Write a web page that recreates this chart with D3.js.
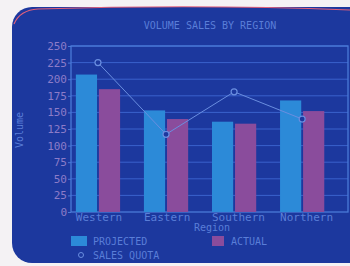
<!DOCTYPE html>
<html lang="en">
<head>
    <meta charset="UTF-8">
    <title>Volume Sales by Region</title>
    <style>
        body { margin: 0; background: #f4f2f4; }
        svg { display: block; }
        text { font-family: "DejaVu Sans Mono", monospace; }
        .grid line { stroke: #3a62cc; stroke-width: 1; }
        .tick-label { fill: #8c7cc8; font-size: 11px; }
    </style>
    <script src="https://d3js.org/d3.v7.min.js"></script>
</head>
<body>
    <script>
        const regions = ["Western", "Eastern", "Southern", "Northern"];
        const projected = [207, 153, 136, 168];
        const actual = [185, 140, 133, 152];
        const quota = [225, 117, 181, 140];
        const yTicks = [0, 25, 50, 75, 100, 125, 150, 175, 200, 225, 250];

        const width = 350, height = 266;
        const plot = { left: 71, right: 348, top: 46, bottom: 212 };

        const svg = d3.select("body").append("svg")
            .attr("width", width).attr("height", height);

        // CRT screen
        svg.append("rect")
            .attr("x", 12).attr("y", 7)
            .attr("width", 360).attr("height", 256)
            .attr("rx", 20)
            .attr("fill", "#1c389e");
        svg.append("path")
            .attr("d", "M14,24 Q20,10 38,9 Q200,4 350,10")
            .attr("fill", "none")
            .attr("stroke", "#e0607c")
            .attr("stroke-width", 1.2);

        const y = d3.scaleLinear().domain([0, 250]).range([plot.bottom, plot.top]);
        const x = d3.scaleBand().domain(regions)
            .range([plot.left, plot.right])
            .paddingInner(0.35).paddingOuter(0.21).align(0.17);
        const xs = d3.scaleBand().domain(["projected", "actual"])
            .range([0, x.bandwidth()]).paddingInner(0.08);

        // grid
        svg.append("g").attr("class", "grid")
            .selectAll("line").data(yTicks.slice(1)).enter().append("line")
            .attr("x1", plot.left).attr("x2", plot.right)
            .attr("y1", d => y(d)).attr("y2", d => y(d));

        // plot frame
        svg.append("rect")
            .attr("x", plot.left).attr("y", plot.top)
            .attr("width", plot.right - plot.left).attr("height", plot.bottom - plot.top)
            .attr("fill", "none").attr("stroke", "#4a7ad8").attr("stroke-width", 1.3);

        // y axis
        const yAxis = svg.append("g")
            .attr("transform", `translate(${plot.left},0)`)
            .call(d3.axisLeft(y).tickValues(yTicks).tickSize(3).tickPadding(1));
        yAxis.select(".domain").remove();
        yAxis.selectAll(".tick line").attr("stroke", "#4a7ad8");
        yAxis.selectAll(".tick text").attr("class", "tick-label")
            .attr("fill", "#8c7cc8").style("font-size", "11px");

        // bars
        const groups = svg.append("g").selectAll("g").data(regions).enter().append("g")
            .attr("transform", d => `translate(${x(d)},0)`);
        groups.append("rect")
            .attr("x", xs("projected")).attr("width", xs.bandwidth())
            .attr("y", (d, i) => y(projected[i]))
            .attr("height", (d, i) => y(0) - y(projected[i]))
            .attr("fill", "#2c8ad8");
        groups.append("rect")
            .attr("x", xs("actual")).attr("width", xs.bandwidth())
            .attr("y", (d, i) => y(actual[i]))
            .attr("height", (d, i) => y(0) - y(actual[i]))
            .attr("fill", "#8a4c9c");

        // sales quota line
        const cx = d => x(d) + x.bandwidth() / 2;
        const line = d3.line().x((d, i) => cx(regions[i])).y(d => y(d));
        svg.append("path").datum(quota)
            .attr("d", line)
            .attr("fill", "none").attr("stroke", "#6a8ee0").attr("stroke-width", 1);
        svg.append("g").selectAll("circle").data(quota).enter().append("circle")
            .attr("cx", (d, i) => cx(regions[i])).attr("cy", d => y(d))
            .attr("r", 3)
            .attr("fill", "#1c389e").attr("stroke", "#6a8ee0").attr("stroke-width", 1.2);

        // x labels
        svg.append("g").selectAll("text").data(regions).enter().append("text")
            .attr("x", d => x(d))
            .attr("y", plot.bottom + 9)
            .attr("fill", "#5a7ed8")
            .style("font-size", "11px")
            .text(d => d);

        // titles
        svg.append("text")
            .attr("x", 210).attr("y", 29)
            .attr("text-anchor", "middle")
            .attr("fill", "#5a7ed8").style("font-size", "10px")
            .text("VOLUME SALES BY REGION");
        svg.append("text")
            .attr("x", 212).attr("y", 231)
            .attr("text-anchor", "middle")
            .attr("fill", "#5a7ed8").style("font-size", "10px")
            .text("Region");
        svg.append("text")
            .attr("transform", "translate(23,130) rotate(-90)")
            .attr("text-anchor", "middle")
            .attr("fill", "#5a7ed8").style("font-size", "10px")
            .text("Volume");

        // legend
        const legend = svg.append("g").style("font-size", "10px");
        legend.append("rect").attr("x", 71).attr("y", 236).attr("width", 16).attr("height", 10).attr("fill", "#2c8ad8");
        legend.append("text").attr("x", 93).attr("y", 245).attr("fill", "#5a7ed8").text("PROJECTED");
        legend.append("rect").attr("x", 212).attr("y", 236).attr("width", 12).attr("height", 10).attr("fill", "#8a4c9c");
        legend.append("text").attr("x", 231).attr("y", 245).attr("fill", "#5a7ed8").text("ACTUAL");
        legend.append("circle").attr("cx", 81).attr("cy", 255).attr("r", 2.5)
            .attr("fill", "none").attr("stroke", "#6a8ee0");
        legend.append("text").attr("x", 93).attr("y", 259).attr("fill", "#5a7ed8").text("SALES QUOTA");
    </script>
</body>
</html>
